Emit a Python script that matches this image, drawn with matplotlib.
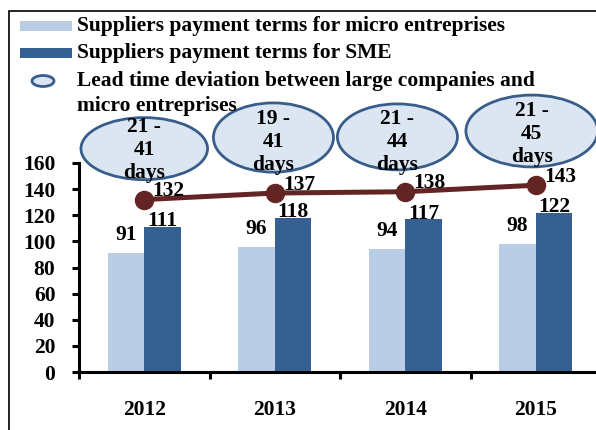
import matplotlib
matplotlib.use("Agg")
import matplotlib.pyplot as plt
from matplotlib.patches import Ellipse, Rectangle
import numpy as np

years = ["2012", "2013", "2014", "2015"]
micro_terms = [91, 96, 94, 98]
sme_terms = [111, 118, 117, 122]
line_values = [132, 137, 138, 143]
lead_low = [21, 19, 21, 21]
lead_high = [41, 41, 44, 45]

# ellipse layout (data coords): x centre, y centre, width, height
ell_x = [0.0, 0.99, 1.94, 2.97]
ell_y = [171, 179.5, 180, 184.5]
ell_w = [0.97, 0.92, 0.92, 1.01]
ell_h = [47.5, 53, 50.5, 55]
txt_y = [170, 176, 176, 182]

LIGHT = "#B9CDE5"
DARK = "#376092"
ELL_FACE = "#DCE6F2"
ELL_EDGE = "#385D8A"
LINE = "#632523"
FONT = "Liberation Serif"
FS = 15.5

plt.rcParams["font.family"] = FONT
plt.rcParams["font.weight"] = "bold"

W, H = 596, 430
fig = plt.figure(figsize=(W / 100, H / 100), dpi=100)


def fx(px):
    return px / W


def fy(py):
    return 1 - py / H


ax = fig.add_axes([fx(79), fy(372), (601 - 79) / W, (372 - 163) / H])
x = np.arange(len(years))
bw = 0.28

b1 = ax.bar(x - bw / 2, micro_terms, bw, color=LIGHT, zorder=2)
b2 = ax.bar(x + bw / 2, sme_terms, bw, color=DARK, zorder=2)
ax.plot(x, line_values, color=LINE, lw=3.6, marker="o", markersize=13, zorder=4)

for xi, v in zip(x, micro_terms):
    ax.annotate(str(v), (xi - bw / 2, v), xytext=(0, 13), textcoords="offset points",
                ha="center", va="center", fontsize=FS, fontweight="bold")
for xi, v in zip(x, sme_terms):
    ax.annotate(str(v), (xi + bw / 2, v), xytext=(0, 4), textcoords="offset points",
                ha="center", va="center", fontsize=FS, fontweight="bold", zorder=5)
for xi, v in zip(x, line_values):
    ax.annotate(str(v), (xi, v), xytext=(6, 6), textcoords="offset points",
                ha="left", va="center", fontsize=FS, fontweight="bold", zorder=6)

for i in range(len(years)):
    e = Ellipse((ell_x[i], ell_y[i]), ell_w[i], ell_h[i], facecolor=ELL_FACE,
                edgecolor=ELL_EDGE, lw=2, clip_on=False, zorder=3)
    ax.add_patch(e)
    ax.text(ell_x[i], txt_y[i], f"{lead_low[i]} -\n{lead_high[i]}\ndays", ha="center",
            va="center", fontsize=FS, fontweight="bold", linespacing=1.2,
            zorder=7, clip_on=False)

ax.set_xlim(-0.5, len(years) - 0.5)
ax.set_ylim(0, 160)
ax.set_yticks(range(0, 161, 20))
ax.set_xticks(np.arange(len(years) + 1) - 0.5, minor=False)
ax.set_xticklabels([])
ax.set_xticks(x, minor=True)
ax.set_xticklabels(years, minor=True)
ax.tick_params(axis="x", which="minor", length=0, pad=20, labelsize=FS)
ax.tick_params(axis="x", which="major", length=5, width=2.2, direction="out")
ax.tick_params(axis="y", length=5, width=2.2, pad=12, labelsize=FS)
for lab in ax.get_xticklabels(minor=True) + ax.get_yticklabels():
    lab.set_fontweight("bold")
for s in ["top", "right"]:
    ax.spines[s].set_visible(False)
for s in ["left", "bottom"]:
    ax.spines[s].set_linewidth(2.2)

# outer frame
fig.patches.append(Rectangle((fx(9), fy(470)), fx(700), fy(11) - fy(470), transform=fig.transFigure,
                             fill=False, edgecolor="black", lw=1.2))

# legend
fig.patches.append(Rectangle((fx(20), fy(31)), fx(52), fy(21) - fy(31), transform=fig.transFigure,
                             facecolor=LIGHT, edgecolor="none"))
fig.patches.append(Rectangle((fx(20), fy(58)), fx(52), fy(48) - fy(58), transform=fig.transFigure,
                             facecolor=DARK, edgecolor="none"))
fig.patches.append(Ellipse((fx(43), fy(81)), fx(22), fy(76) - fy(87), transform=fig.transFigure,
                           facecolor=ELL_FACE, edgecolor=ELL_EDGE, lw=2))
fig.text(fx(77), fy(26), "Suppliers payment terms for micro entreprises", va="center",
         fontsize=FS, fontweight="bold")
fig.text(fx(77), fy(53), "Suppliers payment terms for SME", va="center",
         fontsize=FS, fontweight="bold")
fig.text(fx(77), fy(81), "Lead time deviation between large companies and",
         va="center", fontsize=FS, fontweight="bold")
fig.text(fx(77), fy(106), "micro entreprises",
         va="center", fontsize=FS, fontweight="bold")

fig.savefig("out.png", dpi=100)
